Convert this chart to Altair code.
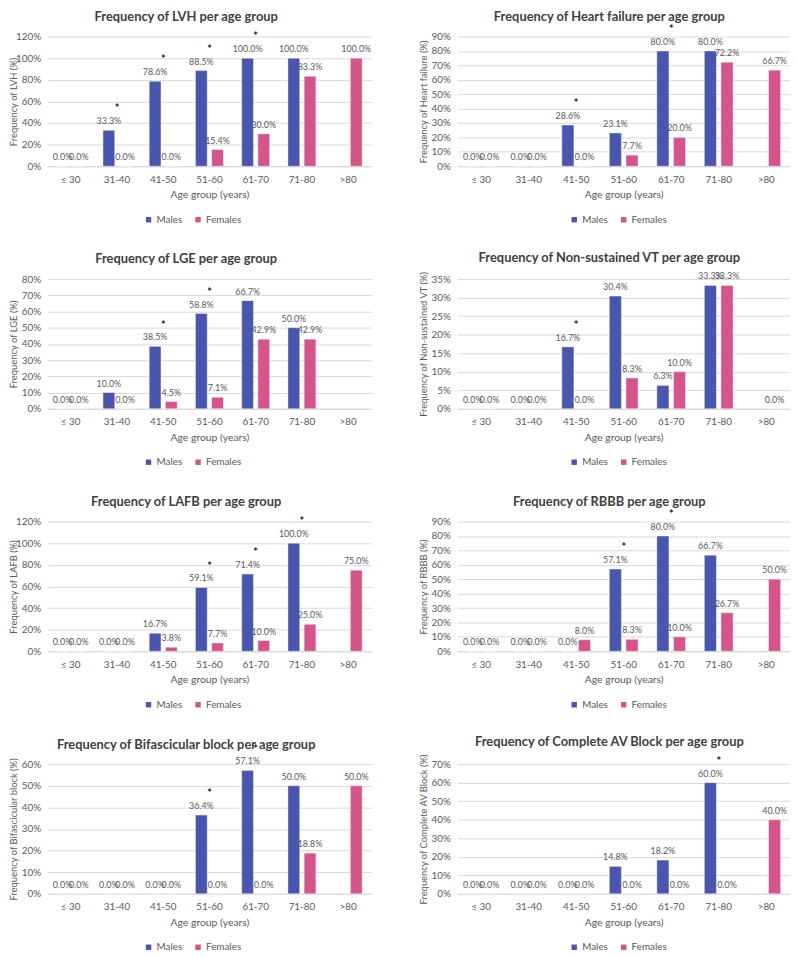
import altair as alt
import pandas as pd

ages = ["≤ 30", "31-40", "41-50", "51-60", "61-70", "71-80", ">80"]
sexes = ["Males", "Females"]

lvh_m = [0.0, 33.3, 78.6, 88.5, 100.0, 100.0, None]
lvh_f = [0.0, 0.0, 0.0, 15.4, 30.0, 83.3, 100.0]
lvh_star = ["31-40", "41-50", "51-60", "61-70"]

hf_m = [0.0, 0.0, 28.6, 23.1, 80.0, 80.0, None]
hf_f = [0.0, 0.0, 0.0, 7.7, 20.0, 72.2, 66.7]
hf_star = ["41-50", "61-70"]

lge_m = [0.0, 10.0, 38.5, 58.8, 66.7, 50.0, None]
lge_f = [0.0, 0.0, 4.5, 7.1, 42.9, 42.9, None]
lge_star = ["41-50", "51-60"]

nsvt_m = [0.0, 0.0, 16.7, 30.4, 6.3, 33.3, None]
nsvt_f = [0.0, 0.0, 0.0, 8.3, 10.0, 33.3, 0.0]
nsvt_star = ["41-50"]

lafb_m = [0.0, 0.0, 16.7, 59.1, 71.4, 100.0, None]
lafb_f = [0.0, 0.0, 3.8, 7.7, 10.0, 25.0, 75.0]
lafb_star = ["51-60", "61-70", "71-80"]

rbbb_m = [0.0, 0.0, 0.0, 57.1, 80.0, 66.7, None]
rbbb_f = [0.0, 0.0, 8.0, 8.3, 10.0, 26.7, 50.0]
rbbb_star = ["51-60", "61-70"]

bif_m = [0.0, 0.0, 0.0, 36.4, 57.1, 50.0, None]
bif_f = [0.0, 0.0, 0.0, 0.0, 0.0, 18.8, 50.0]
bif_star = ["51-60", "61-70"]

cavb_m = [0.0, 0.0, 0.0, 14.8, 18.2, 60.0, None]
cavb_f = [0.0, 0.0, 0.0, 0.0, 0.0, 0.0, 40.0]
cavb_star = ["71-80"]

BLUE = "#4856B0"
PINK = "#D5548A"
FONT = "Lato"
GRAY = "#595959"
GRID = "#D9D9D9"
H = 131
STAR_DY = -21
LABEL_DY = -4


def title_offset(males, females, stars, ymax):
    # keep every panel title at the same distance above its plot area,
    # whatever the star / label marks that stick out above the plot
    tops = [-5.0]
    for a, m, f in zip(ages, males, females):
        vals = [v for v in (m, f) if v is not None]
        for v in vals:
            tops.append(H * (1 - v / ymax) + LABEL_DY - 9.5)
        if a in stars:
            tops.append(H * (1 - max(vals) / ymax) + STAR_DY - 6.5)
    return min(tops) + 13


def panel(name, ylabel, males, females, stars, ymax, ystep, width, legend_x, title_dx):
    rows = []
    for a, m, f in zip(ages, males, females):
        rows.append({"age": a, "sex": "Males", "value": m})
        rows.append({"age": a, "sex": "Females", "value": f})
    df = pd.DataFrame(rows)
    star_rows = []
    for a, m, f in zip(ages, males, females):
        if a in stars:
            star_rows.append({"age": a, "value": max(v for v in (m, f) if v is not None)})
    sdf = pd.DataFrame(star_rows)

    x = alt.X(
        "age:N", sort=ages, title="Age group (years)",
        scale=alt.Scale(paddingInner=0.395, paddingOuter=0.1975),
        axis=alt.Axis(labelAngle=0, ticks=False, domainColor=GRID, labelColor=GRAY,
                      labelFont=FONT, labelFontSize=10, labelPadding=8,
                      titleFont=FONT, titleFontSize=10.5, titleColor=GRAY,
                      titleFontWeight="normal", titlePadding=6),
    )
    y = alt.Y(
        "value:Q", title=f"Frequency of {ylabel} (%)",
        scale=alt.Scale(domain=[0, ymax], nice=False),
        axis=alt.Axis(values=list(range(0, ymax + 1, ystep)), labelExpr="datum.value + '%'",
                      domain=False, ticks=False, gridColor=GRID, labelColor=GRAY,
                      labelFont=FONT, labelFontSize=10, labelPadding=7,
                      titleFont=FONT, titleFontSize=9.5, titleColor=GRAY,
                      titleFontWeight="normal", titleX=-29, titleY=H / 2),
    )
    xo = alt.XOffset("sex:N", sort=sexes, scale=alt.Scale(paddingInner=0.273))
    color = alt.Color(
        "sex:N", sort=sexes, scale=alt.Scale(domain=sexes, range=[BLUE, PINK]),
        legend=alt.Legend(title=None, orient="none", direction="horizontal",
                          legendX=legend_x, legendY=180, symbolType="square",
                          symbolSize=30, symbolStrokeWidth=0, labelFont=FONT,
                          labelFontSize=10, labelColor=GRAY, columnPadding=10,
                          labelOffset=3),
    )
    base = alt.Chart(df)
    bars = base.mark_bar(stroke="white", strokeWidth=0.6, strokeOpacity=0.7).encode(
        x=x, y=y, xOffset=xo, color=color)
    labels = base.transform_filter("isValid(datum.value)").transform_calculate(
        lbl="format(datum.value, '.1f') + '%'"
    ).mark_text(baseline="bottom", dy=LABEL_DY, font=FONT, fontSize=9, color=GRAY).encode(
        x=x, y=y, xOffset=xo, text="lbl:N")
    starl = alt.Chart(sdf).mark_text(text="*", baseline="middle", dy=STAR_DY, font=FONT,
                                     fontSize=11, fontWeight="bold", color="#222222").encode(
        x=x, y=y)
    return alt.layer(bars, labels, starl).properties(
        width=width, height=H,
        title=alt.TitleParams(f"Frequency of {name} per age group", font=FONT, fontSize=13,
                              fontWeight="bold", color="#404040", frame="bounds",
                              anchor="middle",
                              offset=title_offset(males, females, stars, ymax),
                              dx=title_dx),
    )


WL = 327
WR = 336
panels = [
    panel("LVH", "LVH", lvh_m, lvh_f, lvh_star, 120, 20, WL, 97, -4),
    panel("Heart failure", "Heart failure", hf_m, hf_f, hf_star, 90, 10, WR, 113, 5),
    panel("LGE", "LGE", lge_m, lge_f, lge_star, 80, 10, WL, 97, -4),
    panel("Non-sustained VT", "Non-sustained VT", nsvt_m, nsvt_f, nsvt_star, 35, 5, WR, 113, 5),
    panel("LAFB", "LAFB", lafb_m, lafb_f, lafb_star, 120, 20, WL, 97, -4),
    panel("RBBB", "RBBB", rbbb_m, rbbb_f, rbbb_star, 90, 10, WR, 113, 5),
    panel("Bifascicular block", "Bifascicular block", bif_m, bif_f, bif_star, 60, 10, WL, 97, -4),
    panel("Complete AV Block", "Complete AV Block", cavb_m, cavb_f, cavb_star, 70, 10, WR, 113, 5),
]

chart = alt.concat(
    *panels, columns=2, spacing={"row": 245 - H, "column": 87}, bounds="flush"
).resolve_scale(
    x="independent", y="independent", color="independent", xOffset="independent"
).resolve_legend(color="independent").properties(
    padding={"left": 0, "top": -2, "right": 0, "bottom": 0}
).configure_view(
    stroke=None
)

chart.save("out.html", embed_options={"renderer": "svg", "actions": False})
